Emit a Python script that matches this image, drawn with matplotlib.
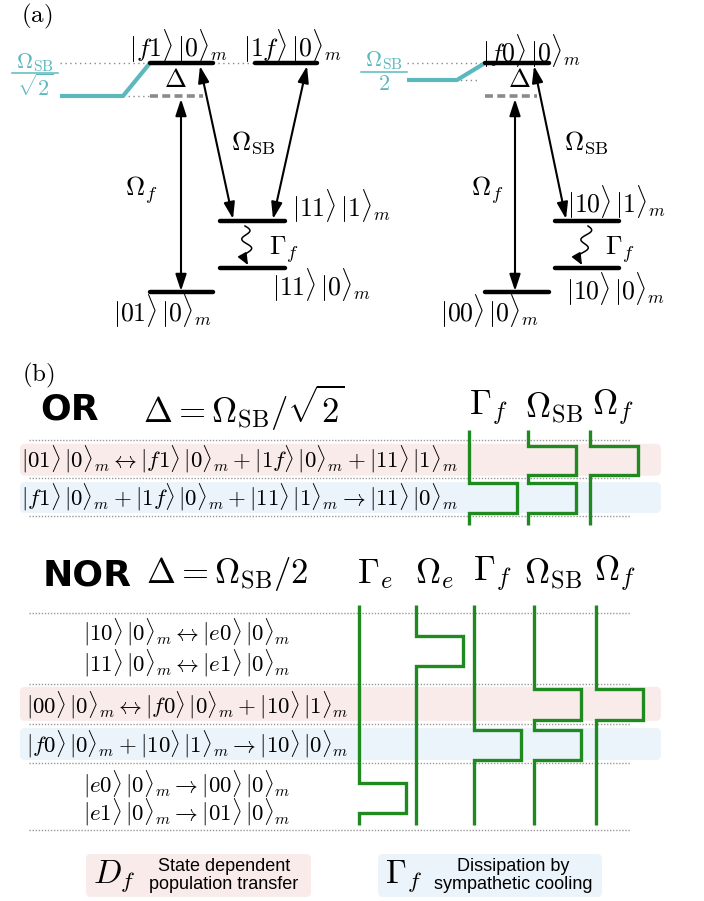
import numpy as np
import matplotlib.pyplot as plt
from matplotlib.patches import FancyArrowPatch, FancyBboxPatch

plt.rcParams['mathtext.fontset'] = 'cm'
plt.rcParams['font.family'] = ['DejaVu Sans']

W, H = 704, 901

BLACK = '#000000'
GRAY = '#8a8a8a'
TEAL = '#5bb9bd'
GREEN = '#1f8a1f'
PINK = '#f9ebe9'
BLUE = '#ebf4fa'

# ---------------- (a) level schemes ----------------
# levels: (x_start, x_end, y)
or_levels = [(150, 213, 63), (255, 317, 63), (220, 285, 221), (220, 285, 268), (150, 213, 292)]
or_level_names = [r'$|f1\rangle\,|0\rangle_m$', r'$|1f\rangle\,|0\rangle_m$',
                  r'$|11\rangle\,|1\rangle_m$', r'$|11\rangle\,|0\rangle_m$',
                  r'$|01\rangle\,|0\rangle_m$']
or_name_pos = [(178, 46, 'center'), (292, 46, 'center'), (292, 206, 'left'),
               (272, 285, 'left'), (163, 311, 'center')]

nor_levels = [(485, 549, 63), (555, 619, 221), (555, 619, 268), (485, 549, 292)]
nor_level_names = [r'$|f0\rangle\,|0\rangle_m$', r'$|10\rangle\,|1\rangle_m$',
                   r'$|10\rangle\,|0\rangle_m$', r'$|00\rangle\,|0\rangle_m$']
nor_name_pos = [(531, 51, 'center'), (617, 202, 'center'), (616, 289, 'center'),
                (490, 311, 'center')]

# drive detuned by Delta from the f-level
virtual_levels = [(150, 203, 96), (485, 537, 96)]
# light shift Omega_SB/sqrt2 (OR) and Omega_SB/2 (NOR)
shift_x = [[60, 123, 150], [407, 457, 485]]
shift_y = [[96, 96, 63], [80, 80, 63]]
# fraction labels: (numerator, denominator, x centre, numerator y, bar y, denominator y, bar half width)
shift_frac = [(r'$\Omega_{\rm SB}$', r'$\sqrt{2}$', 35, 63, 73, 87, 23),
              (r'$\Omega_{\rm SB}$', r'$2$', 384, 61, 72, 84, 23)]
guides = [(60, 150, 63), (213, 255, 63), (60, 150, 96), (407, 485, 63), (407, 477, 80)]

# coherent drives (double arrows) and decay (wavy arrows)
drives = [((181, 99), (181, 291)), ((200, 66), (233, 219)), ((307, 66), (273, 219)),
          ((515, 99), (515, 291)), ((534, 66), (566, 219))]
decays = [((245, 226), (248, 265)), ((588, 226), (582, 265))]
a_labels = [(r'$\Delta$', 175, 80), (r'$\Delta$', 519, 80),
            (r'$\Omega_f$', 141, 190), (r'$\Omega_f$', 487, 190),
            (r'$\Omega_{\rm SB}$', 253, 143), (r'$\Omega_{\rm SB}$', 586, 143),
            (r'$\Gamma_f$', 284, 250), (r'$\Gamma_f$', 620, 250)]

# ---------------- (b) pulse sequences ----------------
or_rows = [r'$|01\rangle\,|0\rangle_m \leftrightarrow |f1\rangle\,|0\rangle_m + |1f\rangle\,|0\rangle_m + |11\rangle\,|1\rangle_m$',
           r'$|f1\rangle\,|0\rangle_m + |1f\rangle\,|0\rangle_m + |11\rangle\,|1\rangle_m \rightarrow |11\rangle\,|0\rangle_m$']
or_row_t = [0.52, 1.5]
or_steps = [0, 1, 2]
or_bands = [(0.1, 0.94, PINK), (1.11, 1.92, BLUE)]
or_channels = [r'$\Gamma_f$', r'$\Omega_{\rm SB}$', r'$\Omega_f$']
or_pulses = [[(1.13, 1.92)],
             [(0.16, 0.92), (1.13, 1.92)],
             [(0.16, 0.92)]]

nor_rows = [r'$|10\rangle\,|0\rangle_m \leftrightarrow |e0\rangle\,|0\rangle_m$',
            r'$|11\rangle\,|0\rangle_m \leftrightarrow |e1\rangle\,|0\rangle_m$',
            r'$|00\rangle\,|0\rangle_m \leftrightarrow |f0\rangle\,|0\rangle_m + |10\rangle\,|1\rangle_m$',
            r'$|f0\rangle\,|0\rangle_m + |10\rangle\,|1\rangle_m \rightarrow |10\rangle\,|0\rangle_m$',
            r'$|e0\rangle\,|0\rangle_m \rightarrow |00\rangle\,|0\rangle_m$',
            r'$|e1\rangle\,|0\rangle_m \rightarrow |01\rangle\,|0\rangle_m$']
nor_row_t = [0.5, 1.27, 2.33, 3.32, 4.35, 5.06]
nor_steps = [0, 1.8, 2.8, 3.8, 5.5]
nor_bands = [(1.87, 2.73, PINK), (2.91, 3.72, BLUE)]
nor_channels = [r'$\Gamma_e$', r'$\Omega_e$', r'$\Gamma_f$', r'$\Omega_{\rm SB}$', r'$\Omega_f$']
nor_pulses = [[(4.30, 5.06)],
              [(0.58, 1.34)],
              [(2.96, 3.72)],
              [(1.92, 2.71), (2.96, 3.72)],
              [(1.92, 2.71)]]


def dbl_arrow(a, p, q):
    a.add_patch(FancyArrowPatch(p, q, arrowstyle='<|-|>,head_length=1.0,head_width=0.33',
                                mutation_scale=10, lw=1.5, color=BLACK,
                                shrinkA=0, shrinkB=0, zorder=4))


def wavy_arrow(a, p, q, amp=4.5, turns=1.75):
    s = np.linspace(0, 1, 120)
    y = p[1] + (q[1] - 8 - p[1]) * s
    x = p[0] + (q[0] - p[0]) * s + amp * np.sin(2 * np.pi * turns * s)
    a.plot(x, y, color=BLACK, lw=1.1)
    a.add_patch(FancyArrowPatch((x[-1], y[-1]), q, arrowstyle='-|>,head_length=0.7,head_width=0.3',
                                mutation_scale=10, lw=1.1, color=BLACK, shrinkA=0, shrinkB=0))


def pulse_line(a, x0, amp, on, t0, t1):
    xs, ts = [x0], [t0]
    for start, stop in on:
        xs += [x0, x0 + amp, x0 + amp, x0]
        ts += [start, start, stop, stop]
    xs.append(x0)
    ts.append(t1)
    a.plot(xs, ts, color=GREEN, lw=2.4, solid_joinstyle='miter', solid_capstyle='butt', zorder=3)


def section_axes(y_px0, row_px, t_min, t_max):
    # axes whose y axis counts sequence steps, x axis in figure pixels
    top = y_px0 + t_min * row_px
    bottom = y_px0 + t_max * row_px
    a = fig.add_axes([0, 1 - bottom / H, 1, (bottom - top) / H])
    a.set_xlim(0, W)
    a.set_ylim(t_max, t_min)
    a.axis('off')
    a.patch.set_alpha(0)
    return a


def draw_sequence(a, row_px, rows, row_t, row_x, steps, bands, pulses, ch_x, amp, t0, t1, fs):
    for t in steps:
        a.plot([29, 630], [t, t], color='#9a9a9a', lw=1.0, ls=(0, (1, 1.2)), zorder=1)
    for start, stop, col in bands:
        a.add_patch(FancyBboxPatch((20, start), 641, stop - start,
                                   boxstyle='round,pad=0,rounding_size=5',
                                   mutation_aspect=1 / row_px, fc=col, ec='none', zorder=0))
    for txt, t in zip(rows, row_t):
        a.text(row_x, t, txt, fontsize=fs, ha='center', va='center', zorder=2)
    for x0, on in zip(ch_x, pulses):
        pulse_line(a, x0, amp, on, t0, t1)


fig = plt.figure(figsize=(W / 100, H / 100), dpi=100)
ax = fig.add_axes([0, 0, 1, 1])
ax.set_xlim(0, W)
ax.set_ylim(H, 0)
ax.axis('off')

# ---- (a) ----
ax.text(37, 16, r'$\mathrm{(a)}$', fontsize=18, ha='center', va='center')
for x0, x1, y in guides:
    ax.plot([x0, x1], [y, y], color=GRAY, lw=1.0, ls=(0, (1, 2.5)), zorder=1)
for x0, x1, y in virtual_levels:
    ax.plot([x0, x1], [y, y], color=GRAY, lw=2.6, ls=(0, (2.2, 1.2)), zorder=2)
for xs, ys in zip(shift_x, shift_y):
    ax.plot(xs, ys, color=TEAL, lw=3.0, solid_capstyle='butt', solid_joinstyle='round', zorder=2)
for num, den, x, y_num, y_bar, y_den, half in shift_frac:
    ax.text(x, y_num, num, fontsize=16, color=TEAL, ha='center', va='center')
    ax.plot([x - half, x + half], [y_bar, y_bar], color=TEAL, lw=1.1)
    ax.text(x, y_den, den, fontsize=16, color=TEAL, ha='center', va='center')
for levels, names, pos in [(or_levels, or_level_names, or_name_pos),
                           (nor_levels, nor_level_names, nor_name_pos)]:
    for (x0, x1, y), name, (tx, ty, ha) in zip(levels, names, pos):
        ax.plot([x0, x1], [y, y], color=BLACK, lw=3.2, solid_capstyle='round', zorder=3)
        ax.text(tx, ty, name, fontsize=18.5, ha=ha, va='center')
for p, q in drives:
    dbl_arrow(ax, p, q)
for p, q in decays:
    wavy_arrow(ax, p, q)
for txt, x, y in a_labels:
    ax.text(x, y, txt, fontsize=19, ha='center', va='center')

# ---- (b) ----
ax.text(38, 375, r'$\mathrm{(b)}$', fontsize=18, ha='center', va='center')

ax.text(40, 409, 'OR', fontsize=26, fontweight='bold', ha='left', va='center')
ax.text(143, 408, r'$\Delta = \Omega_{\rm SB}/\sqrt{2}$', fontsize=25, ha='left', va='center')
or_x = [469, 528, 590]
or_head_x = [488, 554, 613]
for x, name in zip(or_head_x, or_channels):
    ax.text(x, 408, name, fontsize=25, ha='center', va='center')
ax_or = section_axes(440, 38, -0.35, 2.35)
draw_sequence(ax_or, 38, or_rows, or_row_t, 239, or_steps, or_bands, or_pulses,
              or_x, 48, -0.26, 2.24, 16.5)

ax.text(43, 575, 'NOR', fontsize=26, fontweight='bold', ha='left', va='center')
ax.text(146, 574, r'$\Delta = \Omega_{\rm SB}/2$', fontsize=25, ha='left', va='center')
nor_x = [359, 416, 474, 534, 596]
nor_head_x = [375, 435, 492, 553, 615]
for x, name in zip(nor_head_x, nor_channels):
    ax.text(x, 574, name, fontsize=25, ha='center', va='center')
ax_nor = section_axes(613, 39.5, -0.3, 5.65)
draw_sequence(ax_nor, 39.5, nor_rows, nor_row_t, 187, nor_steps, nor_bands, nor_pulses,
              nor_x, 47, -0.2, 5.37, 16.5)

# ---- legend ----
legend = [((86, 854, 311, 897), PINK, r'$D_f$', 'State dependent\npopulation transfer', 114, 224),
          ((378, 854, 602, 897), BLUE, r'$\Gamma_f$', 'Dissipation by\nsympathetic cooling', 404, 513)]
for (x0, y0, x1, y1), col, sym, desc, sx, dx in legend:
    ax.add_patch(FancyBboxPatch((x0, y0), x1 - x0, y1 - y0, boxstyle='round,pad=0,rounding_size=5',
                                fc=col, ec='none', zorder=0))
    ax.text(sx, (y0 + y1) / 2 + 1, sym, fontsize=24, ha='center', va='center')
    ax.text(dx, (y0 + y1) / 2, desc, fontsize=13, family='Liberation Sans',
            ha='center', va='center', linespacing=1.1)

fig.savefig('out.png', dpi=100)
